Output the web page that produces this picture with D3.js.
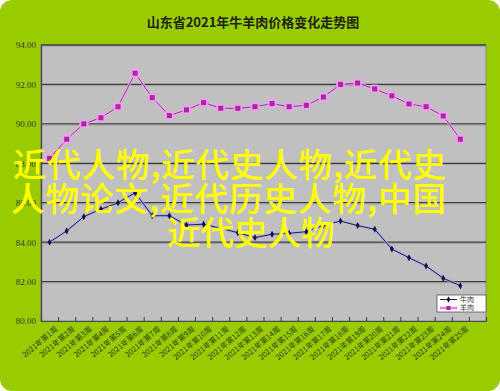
<!DOCTYPE html>
<html>
<head>
<meta charset="utf-8">
<script src="https://cdn.jsdelivr.net/npm/d3@7/dist/d3.min.js"></script>
<style>
  html, body { margin: 0; padding: 0; background: #ffffff; }
  svg { display: block; }
</style>
</head>
<body>
<svg id="chart" width="500" height="391"></svg>
<script>
// Weekly average prices (元/公斤) for beef and lamb in Shandong, 2021
const weeks = d3.range(1, 26).map(w => `2021年第${w}周`);
const beef = [84.00, 84.57, 85.29, 85.67, 86.00, 86.51, 85.34, 85.34, 84.87, 84.91,
              84.70, 84.48, 84.23, 84.40, 84.45, 84.53, 84.85, 85.07, 84.84, 84.65,
              83.65, 83.21, 82.79, 82.17, 81.79];
const lamb = [88.25, 89.22, 90.00, 90.31, 90.87, 92.57, 91.33, 90.42, 90.71, 91.08,
              90.79, 90.79, 90.87, 91.03, 90.87, 90.94, 91.36, 92.00, 92.07, 91.77,
              91.42, 91.01, 90.87, 90.40, 89.22];
const yTicks = [80, 82, 84, 86, 88, 90, 92, 94];
const seriesNames = ["牛肉", "羊肉"];
const title = "山东省2021年牛羊肉价格变化走势图";
const overlayLines = ["近代人物,近代史人物,近代史", "人物论文,近代历史人物,中国", "近代史人物"];

const svg = d3.select("#chart");
const W = 500, H = 391;
const plot = { left: 41, right: 486, top: 45, bottom: 321 };

// Panel background
svg.append("rect").attr("x", 0).attr("y", 0).attr("width", W).attr("height", H)
  .attr("rx", 12).attr("ry", 12).attr("fill", "#99cc00");

// Title
svg.append("text").attr("x", 253).attr("y", 27).attr("text-anchor", "middle")
  .attr("font-family", "'Noto Sans CJK SC', sans-serif").attr("font-weight", 700)
  .attr("font-size", 13).attr("fill", "#1e2410").text(title);

// Scales: one slot per week plus a trailing empty slot
const x = d3.scaleLinear().domain([0, weeks.length + 1]).range([plot.left, plot.right]);
const y = d3.scaleLinear().domain([80, 94]).range([plot.bottom, plot.top]);
const cx = i => x(i + 0.5);

// Plot area
svg.append("rect").attr("x", plot.left).attr("y", plot.top)
  .attr("width", plot.right - plot.left).attr("height", plot.bottom - plot.top)
  .attr("fill", "#c0c0c0").attr("stroke", "#8a8a8a").attr("stroke-width", 1);

// Horizontal gridlines
const grid = svg.append("g");
grid.selectAll("line.g").data(yTicks.filter(t => t > 80)).join("line")
  .attr("x1", plot.left).attr("x2", plot.right)
  .attr("y1", d => y(d)).attr("y2", d => y(d))
  .attr("stroke", "#3c3c3c").attr("stroke-width", 1.3);
grid.selectAll("line.s").data(yTicks.filter(t => t > 80)).join("line")
  .attr("x1", plot.left).attr("x2", plot.right)
  .attr("y1", d => y(d) + 1.3).attr("y2", d => y(d) + 1.3)
  .attr("stroke", "#9a9a9a").attr("stroke-width", 0.8);

// Y axis
const yAxis = d3.axisLeft(y).tickValues(yTicks).tickFormat(d3.format(".2f")).tickSize(0).tickPadding(5);
const gy = svg.append("g").attr("transform", `translate(${plot.left},0)`).call(yAxis);
gy.select(".domain").attr("stroke", "#4a4a4a").attr("stroke-width", 1.4);
gy.selectAll("text").attr("font-family", "'Liberation Serif', serif").attr("font-size", 9)
  .attr("fill", "#3a3a2a");

// X axis: ticks between weeks, pointing into the plot
const xAxis = d3.axisBottom(x).tickValues(d3.range(1, weeks.length + 1)).tickSize(-4).tickFormat("");
const gx = svg.append("g").attr("transform", `translate(0,${plot.bottom})`).call(xAxis);
gx.select(".domain").attr("stroke", "#4a4a4a").attr("stroke-width", 1.2);
gx.selectAll(".tick line").attr("stroke", "#3a3a3a");

// Rotated week labels
svg.append("g").selectAll("text").data(weeks).join("text")
  .attr("transform", (d, i) => `translate(${cx(i) + 7},${plot.bottom + 7}) rotate(-40)`)
  .attr("text-anchor", "end").attr("dy", "0.35em")
  .attr("font-family", "'Noto Sans CJK SC', sans-serif").attr("font-size", 7.5)
  .attr("fill", "#2c3a06").text(d => d);

// Series lines
const line = d3.line().x((d, i) => cx(i)).y(d => y(d));

// lamb: pink halo, purple line, square markers
svg.append("path").datum(lamb).attr("d", line).attr("fill", "none")
  .attr("stroke", "#f4a6f4").attr("stroke-width", 3).attr("opacity", 0.75);
svg.append("path").datum(lamb).attr("d", line).attr("fill", "none")
  .attr("stroke", "#8c3c8c").attr("stroke-width", 1);
const lambPts = svg.append("g").selectAll("g").data(lamb).join("g")
  .attr("transform", (d, i) => `translate(${cx(i)},${y(d)})`);
lambPts.append("rect").attr("x", -4.5).attr("y", -4.5).attr("width", 9).attr("height", 9)
  .attr("rx", 2).attr("fill", "#f79af7").attr("opacity", 0.85);
lambPts.append("rect").attr("x", -2.5).attr("y", -2.5).attr("width", 5).attr("height", 5)
  .attr("fill", "#a8289f");

// beef: light blue halo, navy line, diamond markers
svg.append("path").datum(beef).attr("d", line).attr("fill", "none")
  .attr("stroke", "#a9a9e6").attr("stroke-width", 3).attr("opacity", 0.7);
svg.append("path").datum(beef).attr("d", line).attr("fill", "none")
  .attr("stroke", "#1e1e5a").attr("stroke-width", 1);
svg.append("g").selectAll("path").data(beef).join("path")
  .attr("transform", (d, i) => `translate(${cx(i)},${y(d)})`)
  .attr("d", d3.symbol(d3.symbolDiamond, 14)).attr("fill", "#14144a");

// Legend
const lg = svg.append("g").attr("transform", "translate(437,295)");
lg.append("rect").attr("width", 49).attr("height", 17).attr("fill", "#ffffff")
  .attr("stroke", "#555555").attr("stroke-width", 0.8);
const rows = lg.selectAll("g").data(seriesNames).join("g")
  .attr("transform", (d, i) => `translate(0,${4.5 + i * 8.5})`);
rows.append("line").attr("x1", 3).attr("x2", 20)
  .attr("stroke", (d, i) => i === 0 ? "#1e1e5a" : "#f07af0").attr("stroke-width", (d, i) => i === 0 ? 1 : 2.5);
rows.filter((d, i) => i === 0).append("path").attr("transform", "translate(11.5,0)")
  .attr("d", d3.symbol(d3.symbolDiamond, 12)).attr("fill", "#14144a");
rows.filter((d, i) => i === 1).append("rect").attr("x", 9.5).attr("y", -2).attr("width", 4).attr("height", 4)
  .attr("fill", "#a8289f");
rows.append("text").attr("x", 23).attr("dy", "0.35em")
  .attr("font-family", "'Noto Sans CJK SC', sans-serif").attr("font-size", 7)
  .attr("fill", "#333333").text(d => d);

// Overlay caption
const ov = svg.append("g").attr("font-family", "'Noto Sans CJK SC', sans-serif")
  .attr("font-size", 33.5).attr("font-weight", 500).attr("fill", "#ffff00");
const ovPos = [[13, 177, 433], [11, 211, 435], [167, 245, null]];
ov.selectAll("text").data(overlayLines).join("text")
  .attr("x", (d, i) => ovPos[i][0]).attr("y", (d, i) => ovPos[i][1])
  .each(function (d, i) {
    if (ovPos[i][2]) d3.select(this).attr("textLength", ovPos[i][2]).attr("lengthAdjust", "spacing");
  })
  .text(d => d);
</script>
</body>
</html>
